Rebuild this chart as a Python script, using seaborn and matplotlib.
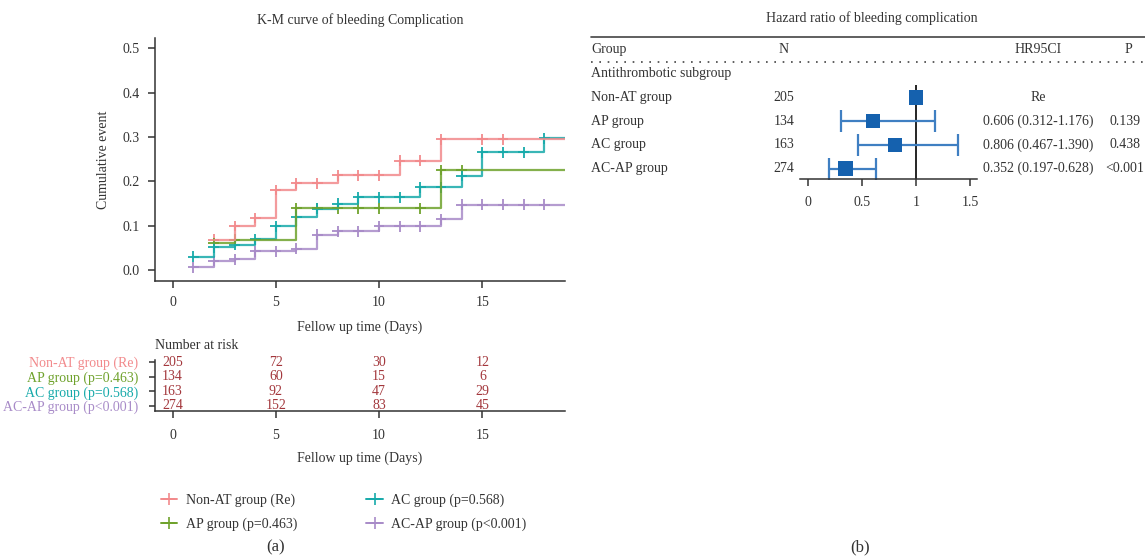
import pandas as pd
import matplotlib.pyplot as plt
import matplotlib.transforms as mtransforms
from matplotlib.lines import Line2D
import seaborn as sns

# ---- K-M data (cumulative event at each censor / event time) ----
groups = ["Non-AT group", "AP group", "AC group", "AC-AP group"]
legend_labels = ["Non-AT group (Re)", "AP group (p=0.463)", "AC group (p=0.568)", "AC-AP group (p<0.001)"]
colors = ["#F28A8C", "#6FA22C", "#17AAAA", "#A88BC8"]

nonat_days = [2, 3, 4, 5, 6, 7, 8, 9, 10, 11, 12, 13, 15, 16]
nonat_cum = [0.069, 0.100, 0.118, 0.181, 0.196, 0.196, 0.214, 0.214, 0.214, 0.247, 0.247, 0.295, 0.295, 0.295]
ap_days = [2, 3, 6, 7, 8, 9, 10, 12, 13, 14]
ap_cum = [0.061, 0.069, 0.140, 0.140, 0.140, 0.140, 0.140, 0.140, 0.226, 0.226]
ac_days = [1, 2, 3, 4, 5, 6, 7, 8, 9, 10, 11, 12, 13, 14, 15, 16, 17, 18]
ac_cum = [0.031, 0.052, 0.058, 0.070, 0.099, 0.121, 0.139, 0.150, 0.164, 0.164, 0.164,
          0.187, 0.187, 0.213, 0.266, 0.266, 0.266, 0.297]
acap_days = [1, 2, 3, 4, 5, 6, 7, 8, 9, 10, 11, 12, 13, 14, 15, 16, 17, 18]
acap_cum = [0.007, 0.021, 0.025, 0.043, 0.043, 0.049, 0.080, 0.088, 0.088, 0.099, 0.099,
            0.099, 0.115, 0.148, 0.148, 0.148, 0.148, 0.148]
follow_end = 19

# ---- number at risk ----
risk_times = [0, 5, 10, 15]
risk_nonat = [205, 72, 30, 12]
risk_ap = [134, 60, 15, 6]
risk_ac = [163, 92, 47, 29]
risk_acap = [274, 152, 83, 45]

# ---- hazard ratios ----
hr_n = [205, 134, 163, 274]
hr = [1.0, 0.606, 0.806, 0.352]
hr_lo = [None, 0.312, 0.467, 0.197]
hr_hi = [None, 1.176, 1.390, 0.628]
hr_text = ["Re", "0.606 (0.312-1.176)", "0.806 (0.467-1.390)", "0.352 (0.197-0.628)"]
p_text = ["", "0.139", "0.438", "<0.001"]

sns.set_theme(style="ticks")
fs = 10
plt.rcParams["font.family"] = ["Liberation Serif", "DejaVu Serif"]
plt.rcParams.update({
    "font.size": fs, "axes.labelsize": fs, "axes.titlesize": fs,
    "xtick.labelsize": fs, "ytick.labelsize": fs, "legend.fontsize": fs,
    "axes.edgecolor": "#333333", "xtick.color": "#333333", "ytick.color": "#333333",
    "text.color": "#333333", "axes.labelcolor": "#333333",
})

W, H = 1145, 560
fig = plt.figure(figsize=(W / 100, H / 100), dpi=100)


def add_ax(left, top, right, bottom):
    return fig.add_axes([left / W, 1 - bottom / H, (right - left) / W, (bottom - top) / H])


# --- long frames for seaborn ---
curves = [nonat_cum, ap_cum, ac_cum, acap_cum]
days = [nonat_days, ap_days, ac_days, acap_days]
pts = pd.concat([pd.DataFrame({"day": d, "cum": c, "group": g}) for g, d, c in zip(groups, days, curves)])
ends = pd.DataFrame({"day": [follow_end] * 4, "cum": [c[-1] for c in curves], "group": groups})
lines = pd.concat([pts, ends]).sort_values(["group", "day"])
pal = dict(zip(groups, colors))

# ================= K-M panel =================
ax = add_ax(155, 38, 565, 281)
sns.lineplot(data=lines, x="day", y="cum", hue="group", palette=pal, estimator=None,
             drawstyle="steps-post", linewidth=1.6, alpha=0.85, legend=False, ax=ax)
sns.scatterplot(data=pts, x="day", y="cum", hue="group", palette=pal, marker="+",
                s=60, linewidth=1.3, legend=False, ax=ax)
ax.set_xlim(-0.85, 19)
ax.set_ylim(-0.024, 0.523)
ax.set_xticks([0, 5, 10, 15])
ax.set_yticks([0.0, 0.1, 0.2, 0.3, 0.4, 0.5])
ax.set_yticklabels(["0.0", "0.1", "0.2", "0.3", "0.4", "0.5"])
ax.tick_params(length=5, width=1.1, pad=6)
for s in ["top", "right"]:
    ax.spines[s].set_visible(False)
for s in ["left", "bottom"]:
    ax.spines[s].set_linewidth(1.1)
ax.set_title("K-M curve of bleeding Complication", pad=10)
ax.set_xlabel("Fellow up time (Days)", labelpad=8)
ax.set_ylabel("Cumulative event", labelpad=9)

# ================= risk table =================
axr = add_ax(155, 360, 565, 411)
risk = [risk_nonat, risk_ap, risk_ac, risk_acap]
for i, row in enumerate(risk):
    for t, n in zip(risk_times, row):
        axr.text(t, i, str(n), ha="center", va="center", color="#A3373C")
axr.set_xlim(-0.85, 19)
axr.set_ylim(3.36, -0.14)
axr.set_xticks(risk_times)
axr.set_yticks(range(4))
axr.set_yticklabels(legend_labels)
for lab, c in zip(axr.get_yticklabels(), colors):
    lab.set_color(c)
axr.tick_params(axis="x", length=5, width=1.1, pad=8)
axr.tick_params(axis="y", length=4, width=1.1, pad=8)
for s in ["top", "right"]:
    axr.spines[s].set_visible(False)
for s in ["left", "bottom"]:
    axr.spines[s].set_linewidth(1.1)
axr.set_title("Number at risk", loc="left", pad=8)
axr.set_xlabel("Fellow up time (Days)", labelpad=7)

handles = [Line2D([], [], color=c, marker="+", markersize=8, mew=1.2, lw=1.4) for c in colors]
fig.legend(handles, legend_labels, loc="upper left", bbox_to_anchor=(148 / W, 1 - 481 / H),
           ncol=2, frameon=False, handlelength=1.2, handletextpad=0.6,
           columnspacing=5.0, labelspacing=0.75)
fig.text(276 / W, 1 - 547 / H, "(a)", ha="center", va="center", fontsize=12)

# ================= forest plot =================
axf = add_ax(800, 85, 977, 179)
rows = list(range(len(groups)))
for i in rows:
    if hr_lo[i] is not None:
        axf.errorbar(hr[i], i, xerr=[[hr[i] - hr_lo[i]], [hr_hi[i] - hr[i]]], fmt="none",
                     ecolor="#3F7FC2", elinewidth=1.6, capsize=8, capthick=1.6, zorder=2)
fp = pd.DataFrame({"hr": hr, "row": rows})
sns.scatterplot(data=fp, x="hr", y="row", marker="s", s=110, color="#1561AE",
                edgecolor="none", zorder=3, ax=axf)
axf.axvline(1, color="black", lw=1.2, zorder=1)
axf.set_xlim(-0.07, 1.565)
axf.set_ylim(3.44, -0.52)
axf.set_xticks([0, 0.5, 1, 1.5])
axf.set_xticklabels(["0", "0.5", "1", "1.5"])
axf.set_yticks([])
axf.set_xlabel("")
axf.set_ylabel("")
axf.tick_params(axis="x", length=5, width=1.1, pad=7)
for s in ["top", "right", "left"]:
    axf.spines[s].set_visible(False)
axf.spines["bottom"].set_linewidth(1.1)

tr = mtransforms.blended_transform_factory(fig.transFigure, axf.transData)
x_group, x_n, x_hr, x_p = 591 / W, 784 / W, 1038 / W, 1125 / W
axf.plot([591 / W, 1], [-2.55, -2.55], transform=tr, color="#444444", lw=1.2, clip_on=False)
axf.plot([591 / W, 1], [-1.5, -1.5], transform=tr, color="#444444", lw=1.2,
         linestyle=(0, (1, 4)), clip_on=False)
axf.text(x_group, -2, "Group", transform=tr, ha="left", va="center")
axf.text(x_n, -2, "N", transform=tr, ha="center", va="center")
axf.text(x_hr, -2, "HR95CI", transform=tr, ha="center", va="center")
axf.text(1128 / W, -2, "P", transform=tr, ha="center", va="center")
axf.text(x_group, -1, "Antithrombotic subgroup", transform=tr, ha="left", va="center")
for i in rows:
    axf.text(x_group, i, groups[i], transform=tr, ha="left", va="center")
    axf.text(x_n, i, str(hr_n[i]), transform=tr, ha="center", va="center")
    axf.text(x_hr, i, hr_text[i], transform=tr, ha="center", va="center")
    axf.text(x_p, i, p_text[i], transform=tr, ha="center", va="center")
fig.text(872 / W, 1 - 18 / H, "Hazard ratio of bleeding complication", ha="center", va="center")
fig.text(860 / W, 1 - 547 / H, "(b)", ha="center", va="center", fontsize=12)

fig.savefig("out.png", dpi=100)
